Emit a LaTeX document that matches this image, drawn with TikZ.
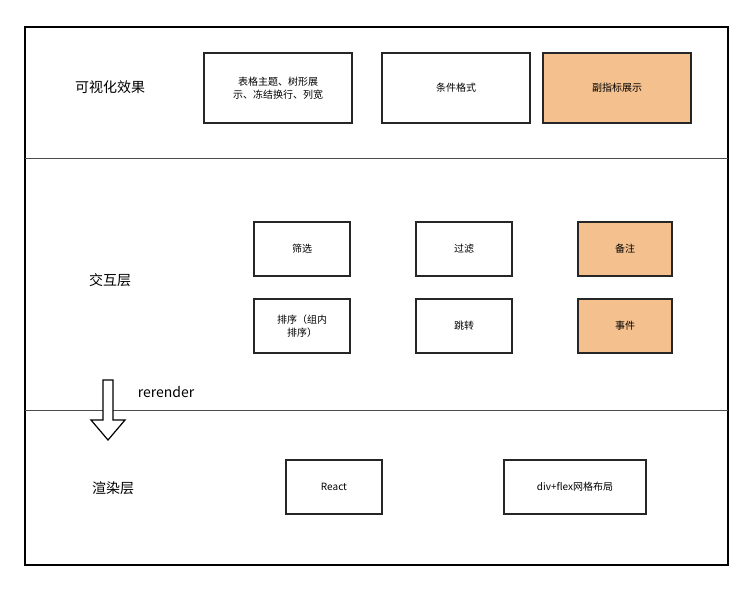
\documentclass[tikz,border=0pt]{standalone}
\usepackage{fontspec}
\setmainfont{Noto Sans CJK SC}
\begin{document}
\begin{tikzpicture}[x=1pt,y=-1pt,
 bx/.style={draw=black!85,line width=1.3pt,font=\fontsize{10}{13}\selectfont,align=center},
 hl/.style={fill={rgb,255:red,244;green,192;blue,142}},
 lab/.style={font=\fontsize{14}{16}\selectfont}]
\useasboundingbox (0,0) rectangle (753,590);
\draw[line width=1.2pt] (25,27) rectangle (728,565);
\draw[line width=0.8pt,black!70] (25,158) -- (728,158);
\draw[line width=0.8pt,black!70] (25,410) -- (728,410);
\node[bx,minimum width=148,minimum height=70] (a1) at (278,88) {表格主题、树形展\\示、冻结换行、列宽};
\node[bx,minimum width=148,minimum height=70] (a2) at (456,88) {条件格式};
\node[bx,hl,minimum width=148,minimum height=70] (a3) at (617,88) {副指标展示};
\node[bx,minimum width=96,minimum height=54] (b1) at (302,249) {筛选};
\node[bx,minimum width=96,minimum height=54] (b2) at (464,249) {过滤};
\node[bx,hl,minimum width=94,minimum height=54] (b3) at (625,249) {备注};
\node[bx,minimum width=96,minimum height=54] (c1) at (302,326) {排序（组内\\排序）};
\node[bx,minimum width=96,minimum height=54] (c2) at (464,326) {跳转};
\node[bx,hl,minimum width=94,minimum height=54] (c3) at (625,326) {事件};
\node[bx,minimum width=96,minimum height=54] (d1) at (334,487) {React};
\node[bx,minimum width=142,minimum height=54] (d2) at (575,487) {div+flex网格布局};
\node[lab] (l1) at (110,87) {可视化效果};
\node[lab] (l2) at (110,280) {交互层};
\node[lab] (l3) at (113,488) {渲染层};
\node[lab,font=\fontsize{14}{16}\selectfont] (r) at (166,392) {rerender};
\draw[line width=1.2pt,fill=white] (103,380) -- (113,380) -- (113,420) -- (125,420) -- (108,440) -- (91,420) -- (103,420) -- cycle;
\end{tikzpicture}
\end{document}
